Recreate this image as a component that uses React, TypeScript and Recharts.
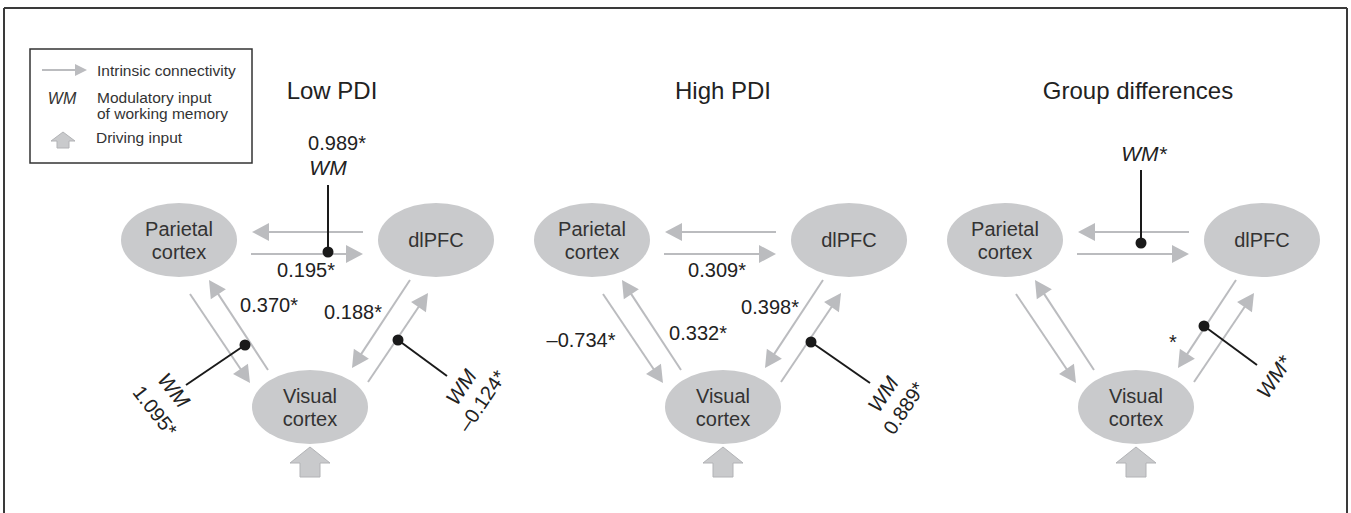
import React from 'react';
import { ScatterChart, Scatter, XAxis, YAxis, ReferenceLine, ReferenceDot } from 'recharts';

// ---- data ----
const panelTitles = ['Low PDI', 'High PDI', 'Group differences'];
const regionNames = ['Parietal cortex', 'dlPFC', 'Visual cortex'];
// connections: dlPFC→parietal, parietal→dlPFC, parietal→visual, visual→parietal, dlPFC→visual, visual→dlPFC
const lowPdiValues = [null, '0.195*', null, '0.370*', '0.188*', null];
const highPdiValues = [null, '0.309*', '–0.734*', '0.332*', '0.398*', null];
const groupDiffValues = [null, null, null, null, '*', null];
// modulatory input of working memory on each connection
const lowPdiWM = [null, '0.989*', null, '1.095*', null, '–0.124*'];
const highPdiWM = [null, null, null, null, null, '0.889*'];
const groupDiffWM = [null, '*', null, null, '*', null];
const legendLabels = ['Intrinsic connectivity', 'Modulatory input', 'of working memory', 'Driving input'];

// ---- layout (base panel coords, px) ----
const WIDTH = 1351;
const HEIGHT = 513;
const PANEL_X = [0, 413, 826];
const TITLE_X = [332, 723, 1138];
const TITLE_Y = 90;
const REGION_POS = [[179, 240], [436, 240], [310, 407]];
const ARROW_POS = [
  [[363, 232], [252, 232]],
  [[251, 254], [363, 254]],
  [[190, 294], [250, 383]],
  [[268, 370], [209, 280]],
  [[410, 280], [352, 368]],
  [[368, 382], [428, 293]],
];
const VALUE_POS: any[][] = [
  [null, [306, 270], null, [269, 305], [353, 312], null],
  [null, [304, 270], [168, 340], [285, 333], [357, 307], null],
  [null, null, null, null, [347, 342], null],
];
const WM_POS: any[][] = [
  [
    null,
    { dot: [328, 252], end: [328, 185], wm: [328, 167], val: [337, 143], rot: 0 },
    null,
    { dot: [245, 345], end: [186, 385], wm: [174, 390], val: [155, 411], rot: 52 },
    null,
    { dot: [398, 340], end: [447, 376], wm: [461, 387], val: [482, 401], rot: -56 },
  ],
  [null, null, null, null, null, { dot: [398, 342], end: [457, 383], wm: [470, 394], val: [491, 408], rot: -56 }],
  [
    null,
    { dot: [315, 243], end: [315, 170], wm: [318, 153], rot: 0 },
    null,
    null,
    { dot: [378, 326], end: [431, 365], wm: [448, 377], rot: -56 },
    null,
  ],
];
const DRIVE_TIP = [310, 447];

const ARROW_COLOR = '#bbbcbf';
const NODE_FILL = '#c9cacc';
const INK = '#222';
const FONT = '"Liberation Sans", Arial, sans-serif';

const panelValues = [lowPdiValues, highPdiValues, groupDiffValues];
const panelWM = [lowPdiWM, highPdiWM, groupDiffWM];

const regionPoints = panelTitles.flatMap((_, p) =>
  regionNames.map((name, r) => ({ x: REGION_POS[r][0] + PANEL_X[p], y: REGION_POS[r][1], name }))
);

const labelPoints: any[] = [];
const wmLinks: any[] = [];
panelTitles.forEach((title, p) => {
  const off = PANEL_X[p];
  labelPoints.push({ x: TITLE_X[p], y: TITLE_Y, text: title, size: 24 });
  panelValues[p].forEach((v, c) => {
    if (!v) return;
    const [x, y] = VALUE_POS[p][c];
    labelPoints.push({ x: x + off, y, text: v, size: 20 });
  });
  panelWM[p].forEach((v, c) => {
    if (!v) return;
    const m = WM_POS[p][c];
    wmLinks.push({ dot: [m.dot[0] + off, m.dot[1]], end: [m.end[0] + off, m.end[1]] });
    if (v === '*') {
      labelPoints.push({ x: m.wm[0] + off, y: m.wm[1], text: 'WM*', size: 21, italic: true, rotate: m.rot });
    } else {
      labelPoints.push({ x: m.wm[0] + off, y: m.wm[1], text: 'WM', size: 21, italic: true, rotate: m.rot });
      labelPoints.push({ x: m.val[0] + off, y: m.val[1], text: v, size: 20, rotate: m.rot });
    }
  });
});

function arrowShape(props: any) {
  const { x1, y1, x2, y2 } = props;
  const dx = x2 - x1;
  const dy = y2 - y1;
  const len = Math.hypot(dx, dy) || 1;
  const ux = dx / len;
  const uy = dy / len;
  const head = 17;
  const half = 9;
  const bx = x2 - ux * head;
  const by = y2 - uy * head;
  return (
    <g>
      <line x1={x1} y1={y1} x2={bx + ux} y2={by + uy} stroke={ARROW_COLOR} strokeWidth={2} />
      <polygon
        points={`${x2},${y2} ${bx - uy * half},${by + ux * half} ${bx + uy * half},${by - ux * half}`}
        fill={ARROW_COLOR}
      />
    </g>
  );
}

function regionShape(props: any) {
  const { cx, cy, payload } = props;
  const lines: string[] = payload.name.split(' ');
  return (
    <g>
      <ellipse cx={cx} cy={cy} rx={58} ry={37} fill={NODE_FILL} />
      {lines.map((t, i) => (
        <text
          key={i}
          x={cx}
          y={cy + (i - (lines.length - 1) / 2) * 23}
          textAnchor="middle"
          dominantBaseline="central"
          fontSize={20}
          fill="#333"
        >
          {t}
        </text>
      ))}
    </g>
  );
}

function labelShape(props: any) {
  const { cx, cy, payload } = props;
  return (
    <text
      x={cx}
      y={cy}
      transform={payload.rotate ? `rotate(${payload.rotate} ${cx} ${cy})` : undefined}
      textAnchor="middle"
      dominantBaseline="central"
      fontSize={payload.size}
      fontStyle={payload.italic ? 'italic' : 'normal'}
      fill={INK}
    >
      {payload.text}
    </text>
  );
}

function drivingShape(props: any) {
  const { cx, cy } = props;
  const pts = [
    [cx, cy], [cx + 20, cy + 16], [cx + 10, cy + 16], [cx + 10, cy + 30],
    [cx - 10, cy + 30], [cx - 10, cy + 16], [cx - 20, cy + 16],
  ];
  return <polygon points={pts.map((q) => q.join(',')).join(' ')} fill={NODE_FILL} stroke="#b2b3b6" strokeWidth={1} />;
}

function LegendBox() {
  return (
    <svg width={224} height={116} style={{ position: 'absolute', left: 29, top: 48 }}>
      <rect x={1} y={1} width={222} height={114} fill="#fff" stroke="#333" strokeWidth={1.5} />
      <line x1={13} y1={22} x2={47} y2={22} stroke={ARROW_COLOR} strokeWidth={2} />
      <polygon points="58,22 46,16 46,28" fill={ARROW_COLOR} />
      <text x={68} y={22} fontSize={15.5} fill="#333" dominantBaseline="central">{legendLabels[0]}</text>
      <text x={33} y={50} fontSize={16} fill="#333" fontStyle="italic" textAnchor="middle" dominantBaseline="central">WM</text>
      <text x={68} y={49} fontSize={15.5} fill="#333" dominantBaseline="central">{legendLabels[1]}</text>
      <text x={68} y={65} fontSize={15.5} fill="#333" dominantBaseline="central">{legendLabels[2]}</text>
      <polygon points="34,84 46,93 40,93 40,100 28,100 28,93 22,93" fill={NODE_FILL} stroke="#b2b3b6" strokeWidth={1} />
      <text x={67} y={89} fontSize={15.5} fill="#333" dominantBaseline="central">{legendLabels[3]}</text>
    </svg>
  );
}

export default function App() {
  return (
    <div style={{ position: 'absolute', left: 0, top: 0, width: WIDTH, height: HEIGHT, fontFamily: FONT, background: '#fff' }}>
      <ScatterChart width={WIDTH} height={HEIGHT} margin={{ top: 0, right: 0, bottom: 0, left: 0 }}>
        <XAxis type="number" dataKey="x" domain={[0, WIDTH]} allowDataOverflow hide />
        <YAxis type="number" dataKey="y" domain={[0, HEIGHT]} allowDataOverflow reversed hide />

        {/* frame */}
        <ReferenceLine segment={[{ x: 4, y: 8 }, { x: 4, y: HEIGHT }]} stroke="#3a3a3a" strokeWidth={2} ifOverflow="visible" />
        <ReferenceLine segment={[{ x: 4, y: 8 }, { x: 1347, y: 8 }]} stroke="#3a3a3a" strokeWidth={2} ifOverflow="visible" />
        <ReferenceLine segment={[{ x: 1347, y: 8 }, { x: 1347, y: HEIGHT }]} stroke="#3a3a3a" strokeWidth={2} ifOverflow="visible" />

        {/* intrinsic connectivity */}
        {PANEL_X.flatMap((off, p) =>
          ARROW_POS.map(([a, b], c) => (
            <ReferenceLine
              key={`arrow-${p}-${c}`}
              segment={[{ x: a[0] + off, y: a[1] }, { x: b[0] + off, y: b[1] }]}
              ifOverflow="visible"
              shape={arrowShape}
            />
          ))
        )}

        {/* driving input */}
        {PANEL_X.map((off, p) => (
          <ReferenceDot key={`drive-${p}`} x={DRIVE_TIP[0] + off} y={DRIVE_TIP[1]} ifOverflow="visible" shape={drivingShape} />
        ))}

        <Scatter data={regionPoints} shape={regionShape} isAnimationActive={false} />

        {/* modulatory input */}
        {wmLinks.map((m, i) => (
          <ReferenceLine
            key={`wm-${i}`}
            segment={[{ x: m.dot[0], y: m.dot[1] }, { x: m.end[0], y: m.end[1] }]}
            stroke="#1a1a1a"
            strokeWidth={2}
            ifOverflow="visible"
          />
        ))}
        {wmLinks.map((m, i) => (
          <ReferenceDot key={`dot-${i}`} x={m.dot[0]} y={m.dot[1]} r={5.5} fill="#1a1a1a" stroke="none" ifOverflow="visible" />
        ))}

        <Scatter data={labelPoints} shape={labelShape} isAnimationActive={false} />
      </ScatterChart>
      <LegendBox />
    </div>
  );
}
